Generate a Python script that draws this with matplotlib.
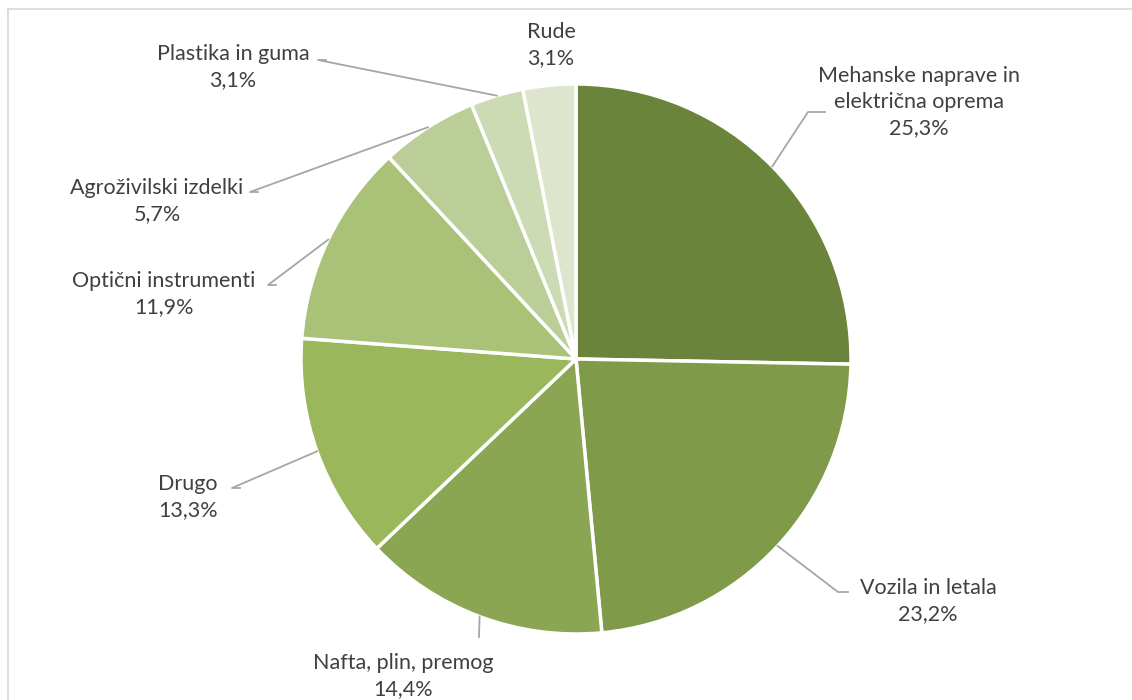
import matplotlib.pyplot as plt
from matplotlib.lines import Line2D
import numpy as np

# podatki
kategorije = ["Mehanske naprave in\nelektrična oprema", "Vozila in letala",
              "Nafta, plin, premog", "Drugo", "Optični instrumenti",
              "Agroživilski izdelki", "Plastika in guma", "Rude"]
deleži = [25.3, 23.2, 14.4, 13.3, 11.9, 5.7, 3.1, 3.1]
barve = ["#6B843B", "#7F9A48", "#8BA652", "#9AB85B", "#A9C278",
         "#BBCE98", "#CCDBB4", "#DDE5CC"]

W, H = 1132, 700
cx, cy, r = 576, H - 359, 275

# polozaj oznak (pixli od zgoraj) in koleno crte
oznake_xy = [(919, 102), (928, 601), (403, 676), (188, 497),
             (164, 294), (157, 201), (233, 67), (551, 45)]
kolena = [(808, 112), (838, 592), (479, 637), (232, 488),
          (268, 285), (250, 192), (318, 60), None]
konci = [(825, 112), (848, 592), None, (240, 488),
         (276, 285), (258, 192), (326, 60), None]

plt.rcParams['font.family'] = ['Lato', 'DejaVu Sans']

fig = plt.figure(figsize=(W / 100, H / 100), dpi=100)
ax = fig.add_axes([0, 0, 1, 1])

ax.pie(deleži, colors=barve, startangle=90, counterclock=False,
       center=(cx, cy), radius=r, frame=True,
       wedgeprops=dict(edgecolor="white", linewidth=2.5))
ax.set_xlim(0, W)
ax.set_ylim(0, H)
ax.set_aspect('equal')
ax.axis('off')

# okvir
ax.add_line(Line2D([8, W], [H - 9, H - 9], color="#d9d9d9", lw=1.2))
ax.add_line(Line2D([8, 8], [H - 9, 0], color="#d9d9d9", lw=1.2))

kum = np.cumsum([0] + deleži[:-1])
for i, (ime, v) in enumerate(zip(kategorije, deleži)):
    kot = np.deg2rad(90 - (kum[i] + v / 2) * 3.6)
    px, py = cx + r * np.cos(kot), cy + r * np.sin(kot)
    lx, ly = oznake_xy[i]
    ax.text(lx, H - ly, f"{ime}\n{str(v).replace('.', ',')}%",
            ha="center", va="center", fontsize=15.5, color="#404040",
            linespacing=1.4)
    if kolena[i] is not None:
        kx, ky = kolena[i]
        xs, ys = [px, kx], [py, H - ky]
        if konci[i] is not None:
            xs.append(konci[i][0])
            ys.append(H - konci[i][1])
        ax.add_line(Line2D(xs, ys, color="#a6a6a6", lw=1.3))

fig.savefig("out.png", dpi=100)
